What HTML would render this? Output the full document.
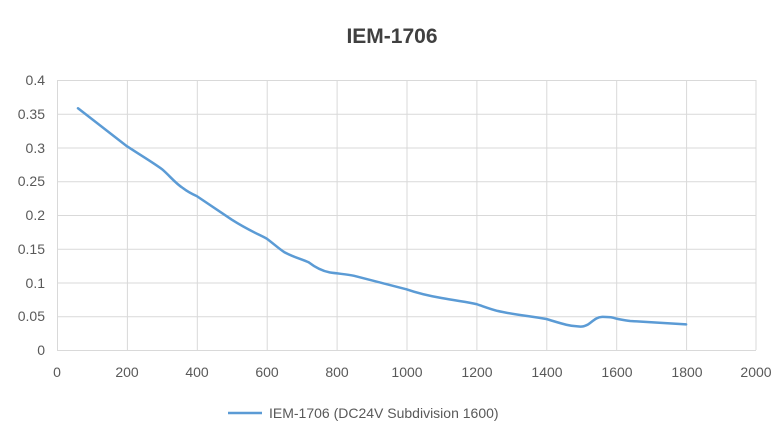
<!DOCTYPE html>
<html><head><meta charset="utf-8"><style>body{margin:0;background:#fff}</style></head>
<body>
<svg width="783" height="441" viewBox="0 0 783 441" xmlns="http://www.w3.org/2000/svg" font-family="Liberation Sans, sans-serif">
<rect width="783" height="441" fill="#fff"/>
<text x="392" y="43" text-anchor="middle" font-size="21" font-weight="bold" fill="#404040">IEM-1706</text>
<g stroke="#d9d9d9" stroke-width="1">
<line x1="57" y1="80.5" x2="756" y2="80.5"/><line x1="57" y1="114.2" x2="756" y2="114.2"/>
<line x1="57" y1="148" x2="756" y2="148"/><line x1="57" y1="181.7" x2="756" y2="181.7"/>
<line x1="57" y1="215.5" x2="756" y2="215.5"/><line x1="57" y1="249.2" x2="756" y2="249.2"/>
<line x1="57" y1="283" x2="756" y2="283"/><line x1="57" y1="316.7" x2="756" y2="316.7"/>
<line x1="57" y1="350.5" x2="756" y2="350.5"/>
<line x1="57.5" y1="80" x2="57.5" y2="350"/><line x1="127.4" y1="80" x2="127.4" y2="350"/>
<line x1="197.3" y1="80" x2="197.3" y2="350"/><line x1="267.2" y1="80" x2="267.2" y2="350"/>
<line x1="337.1" y1="80" x2="337.1" y2="350"/><line x1="407" y1="80" x2="407" y2="350"/>
<line x1="476.9" y1="80" x2="476.9" y2="350"/><line x1="546.8" y1="80" x2="546.8" y2="350"/>
<line x1="616.7" y1="80" x2="616.7" y2="350"/><line x1="686.6" y1="80" x2="686.6" y2="350"/>
<line x1="756" y1="80" x2="756" y2="350"/>
</g>
<g font-size="14" fill="#595959" text-anchor="end">
<text x="45" y="85">0.4</text><text x="45" y="119">0.35</text><text x="45" y="153">0.3</text>
<text x="45" y="186">0.25</text><text x="45" y="220">0.2</text><text x="45" y="254">0.15</text>
<text x="45" y="288">0.1</text><text x="45" y="321">0.05</text><text x="45" y="355">0</text>
</g>
<g font-size="14" fill="#595959" text-anchor="middle">
<text x="57" y="377">0</text><text x="127" y="377">200</text><text x="197" y="377">400</text>
<text x="267" y="377">600</text><text x="337" y="377">800</text><text x="407" y="377">1000</text>
<text x="477" y="377">1200</text><text x="547" y="377">1400</text><text x="617" y="377">1600</text>
<text x="687" y="377">1800</text><text x="756" y="377">2000</text>
</g>
<path d="M78,108.3 L126.9,146.2 C145,158 152,162 161.9,169.1 C170,176 175,183 182.8,188 C188,192 192,194 196.8,196.1 L231.8,219.7 C248,230 258,234 266.7,238.6 C274,244 278,248 284.2,252.1 C295,258 302,259 308.6,262.3 C316,268 322,271 329.6,272.4 C340,274 346,274 354.1,275.8 L406.5,289.3 C420,294 430,296 441.5,298.0 C458,301 468,302 476.4,304.1 C485,307 490,309 497.4,310.9 C515,315 530,316 546.3,319.0 C560,323 568,326 577.8,326.4 C583,327 585,326 588.2,324.4 C594,320 597,317 602.2,316.9 C607,317 609,317 612.7,317.6 C620,320 624,320 630.2,321.0 L651.2,322.3 L686.1,324.4" fill="none" stroke="#5b9bd5" stroke-width="2.5" stroke-linejoin="round" stroke-linecap="round"/>
<line x1="228" y1="413" x2="262" y2="413" stroke="#5b9bd5" stroke-width="2.5"/>
<text x="269" y="418" font-size="14" fill="#595959">IEM-1706 (DC24V  Subdivision 1600)</text>
</svg>
</body></html>
